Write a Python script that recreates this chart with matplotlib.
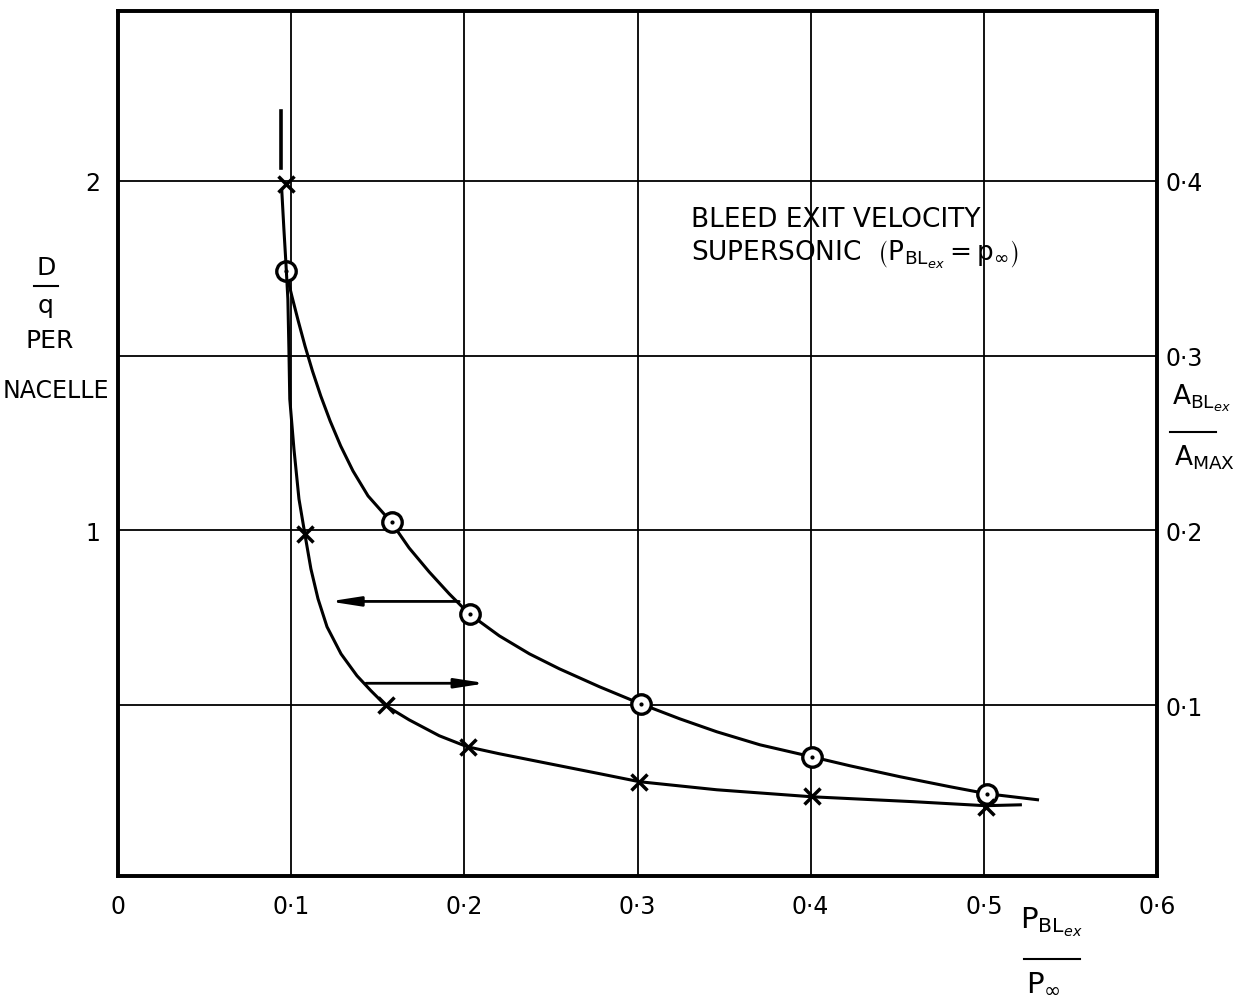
import matplotlib
matplotlib.use('Agg')
import matplotlib.pyplot as plt
from matplotlib.lines import Line2D

# ---------------- data ----------------
x_ticks = [0, 0.1, 0.2, 0.3, 0.4, 0.5, 0.6]
x_tick_labels = ['0', '0·1', '0·2', '0·3', '0·4', '0·5', '0·6']
left_ticks = [0.5, 1.0, 1.5, 2.0]
left_tick_labels = ['', '1', '', '2']
right_ticks = [0.1, 0.2, 0.3, 0.4]
right_tick_labels = ['0·1', '0·2', '0·3', '0·4']

# D/q per nacelle (left axis) - circle points
dq_x = [0.097, 0.158, 0.203, 0.302, 0.401, 0.502]
dq_y = [1.741, 1.024, 0.761, 0.504, 0.353, 0.247]
# faired curve
dq_curve_x = [0.0969, 0.1004, 0.1041, 0.1080, 0.1123, 0.1171, 0.1225, 0.1286,
              0.1357, 0.1444, 0.1577,
              0.1681, 0.1797, 0.1913, 0.2028, 0.2202, 0.2376, 0.2549, 0.2781,
              0.3018, 0.3244, 0.3458, 0.3707, 0.4006, 0.4227, 0.4517, 0.4806,
              0.5020, 0.5310]
dq_curve_y = [1.7414, 1.6700, 1.5986, 1.5271, 1.4557, 1.3843, 1.3129, 1.2414,
              1.1700, 1.0986, 1.0243,
              0.9500, 0.8814, 0.8186, 0.7614, 0.6986, 0.6471, 0.6043, 0.5529,
              0.5043, 0.4614, 0.4243, 0.3871, 0.3529, 0.3271, 0.2957, 0.2671,
              0.2471, 0.2300]

# A_BLex / A_MAX (right axis) - cross points
ar_x = [0.097, 0.108, 0.155, 0.202, 0.301, 0.401, 0.501]
ar_y = [0.398, 0.198, 0.100, 0.076, 0.056, 0.048, 0.042]
# faired curve
ar_top_x = [0.094, 0.094]
ar_top_y = [0.440, 0.407]
ar_curve_x = [0.0946, 0.0958, 0.0969, 0.0981, 0.0987, 0.0992, 0.1016, 0.1045,
              0.1079, 0.1114, 0.1155, 0.1207, 0.1288, 0.1380, 0.1461, 0.1548,
              0.1681, 0.1855, 0.2017, 0.2202, 0.2491, 0.2781, 0.3012, 0.3458,
              0.4007, 0.4592, 0.5009, 0.5211]
ar_curve_y = [0.3940, 0.3723, 0.3540, 0.3323, 0.3037, 0.2751, 0.2466, 0.2180,
              0.1980, 0.1780, 0.1609, 0.1449, 0.1294, 0.1169, 0.1083, 0.0997,
              0.0917, 0.0826, 0.0763, 0.0723, 0.0666, 0.0609, 0.0563, 0.0517,
              0.0477, 0.0449, 0.0426, 0.0431]

# arrows (left-axis units): (x_start, x_end, y)
arrow_left = (0.197, 0.122, 0.797)
arrow_right = (0.1432, 0.2125, 0.563)

# ---------------- figure ----------------
W, H = 1251, 1003
fig = plt.figure(figsize=(W / 100, H / 100), dpi=100)
ax = fig.add_axes([118 / W, 1 - 877 / H, (1157 - 118) / W, (877 - 12) / H])

YMIN, YMAX = 0.012, 2.485
ax.set_xlim(0, 0.6)
ax.set_ylim(YMIN, YMAX)

ax.set_xticks(x_ticks)
ax.set_xticklabels(x_tick_labels, fontsize=17)
ax.set_yticks(left_ticks)
ax.set_yticklabels(left_tick_labels, fontsize=17)
ax.tick_params(axis='x', length=0, pad=13)
ax.tick_params(axis='y', length=0, pad=13)
ax.grid(True, color='black', lw=1.3)
ax.set_axisbelow(True)
for s in ax.spines.values():
    s.set_linewidth(2.6)

ax2 = ax.twinx()
ax2.set_ylim(YMIN * 0.2, YMAX * 0.2)
ax2.set_yticks(right_ticks)
ax2.set_yticklabels(right_tick_labels, fontsize=17)
ax2.tick_params(axis='y', length=0, pad=6)
for s in ax2.spines.values():
    s.set_linewidth(2.6)

# curves
ax.plot(dq_curve_x, dq_curve_y, color='black', lw=2.2, zorder=3,
        solid_joinstyle='round')
ax2.plot(ar_curve_x, ar_curve_y, color='black', lw=2.2, zorder=3,
         solid_joinstyle='round')
ax2.plot(ar_top_x, ar_top_y, color='black', lw=2.6, zorder=3)

# markers
ax.plot(dq_x, dq_y, 'o', ms=14, mfc='white', mec='black', mew=2.4, zorder=5)
ax.plot(dq_x, dq_y, '.', ms=4, color='black', zorder=6)
ax2.plot(ar_x, ar_y, 'x', ms=11, mec='black', mew=2.5, zorder=5)

# arrows
for xs, xe, yy in (arrow_left, arrow_right):
    ax.annotate('', xy=(xe, yy), xytext=(xs, yy),
                arrowprops=dict(arrowstyle='-|>,head_length=1.8,head_width=0.28',
                                lw=2.0, color='black', shrinkA=0, shrinkB=0),
                zorder=4)

# annotation text
ax.text(0.331, 1.870, 'BLEED EXIT VELOCITY', fontsize=19, va='baseline', ha='left')
ax.text(0.331, 1.776,
        r'SUPERSONIC  $\left(\mathsf{P}_{\mathsf{BL}_{ex}} = \mathsf{p}_{\infty}\right)$',
        fontsize=19, va='baseline', ha='left')


def fx(px):
    return px / W


def fy(py):
    return 1 - py / H


# left axis label
fig.text(fx(46), fy(268), 'D', fontsize=18, ha='center', va='center')
fig.add_artist(Line2D([fx(34), fx(58)], [fy(287), fy(287)], color='black', lw=1.5))
fig.text(fx(46), fy(306), 'q', fontsize=18, ha='center', va='center')
fig.text(fx(50), fy(341), 'PER', fontsize=18, ha='center', va='center')
fig.text(fx(109), fy(391), 'NACELLE', fontsize=17, ha='right', va='center')

# right axis label
fig.text(fx(1172), fy(398), r'$\mathsf{A}_{\mathsf{BL}_{ex}}$', fontsize=19,
         ha='left', va='center')
fig.add_artist(Line2D([fx(1170), fx(1216)], [fy(433), fy(433)], color='black', lw=1.5))
fig.text(fx(1174), fy(458), r'$\mathsf{A}_{\mathsf{MAX}}$', fontsize=19,
         ha='left', va='center')

# x axis label
fig.text(fx(1020), fy(922), r'$\mathsf{P}_{\mathsf{BL}_{ex}}$', fontsize=21,
         ha='left', va='center')
fig.add_artist(Line2D([fx(1024), fx(1080)], [fy(960), fy(960)], color='black', lw=1.5))
fig.text(fx(1026), fy(983), r'$\mathsf{P}_{\infty}$', fontsize=21,
         ha='left', va='center')

fig.savefig('out.png', dpi=100)
